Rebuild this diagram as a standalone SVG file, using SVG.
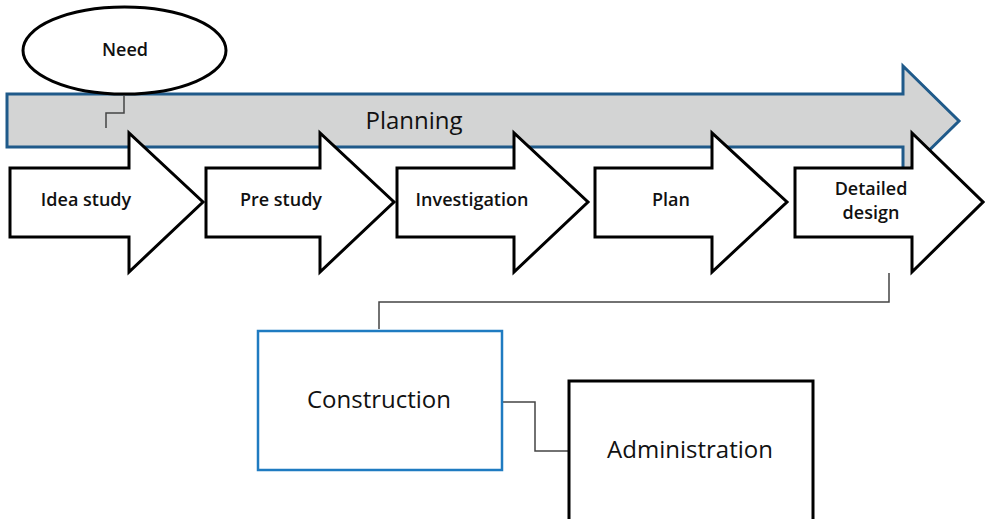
<svg xmlns="http://www.w3.org/2000/svg" width="985" height="519" viewBox="0 0 985 519">
<style>
.step{fill:#fff;stroke:#000;stroke-width:3;stroke-linejoin:miter}
.lbl{font-family:"Open Sans","Liberation Sans",sans-serif;font-size:18px;font-weight:600;fill:#111;text-anchor:middle}
.big{font-family:"Open Sans","Liberation Sans",sans-serif;font-size:24px;fill:#111;text-anchor:middle}
.conn{fill:none;stroke:#444;stroke-width:1.5}
</style>
<rect width="985" height="519" fill="#fff"/>
<g id="planning">
<polygon points="7,94 903,94 903,66 959,121 903,176 903,147 7,147" fill="#d3d4d4" stroke="#1f5a8a" stroke-width="3"/>
<text class="big" x="414" y="129">Planning</text>
</g>
<g id="need">
<ellipse cx="124.5" cy="50.5" rx="101.5" ry="43.5" fill="#fff" stroke="#000" stroke-width="3"/>
<text class="lbl" x="125" y="56">Need</text>
</g>
<g id="connectors">
<polyline class="conn" points="124,95 124,113 106,113 106,128" stroke="#222"/>
<polyline class="conn" points="889,273 889,302 379,302 379,329"/>
<polyline class="conn" points="503,402 535,402 535,451 568,451"/>
</g>
<g id="idea-study">
<polygon class="step" points="10,168 129,168 129,133 203,202 129,272 129,237 10,237"/>
<text class="lbl" x="86" y="206">Idea study</text>
</g>
<g id="pre-study">
<polygon class="step" points="206,168 320,168 320,133 394,202 320,272 320,237 206,237"/>
<text class="lbl" x="281" y="206">Pre study</text>
</g>
<g id="investigation">
<polygon class="step" points="397,168 514,168 514,133 588,202 514,272 514,237 397,237"/>
<text class="lbl" x="472" y="206">Investigation</text>
</g>
<g id="plan">
<polygon class="step" points="595,168 712,168 712,133 787,202 712,272 712,237 595,237"/>
<text class="lbl" x="671" y="206">Plan</text>
</g>
<g id="detailed-design">
<polygon class="step" points="795,168 912,168 912,133 983,202 912,272 912,237 795,237"/>
<text class="lbl" x="871" y="195">Detailed</text>
<text class="lbl" x="871" y="219">design</text>
</g>
<g id="construction">
<rect x="258" y="331" width="244" height="139" fill="#fff" stroke="#1f7bc1" stroke-width="2.5"/>
<text class="big" x="379" y="408">Construction</text>
</g>
<g id="administration">
<rect x="569" y="381" width="244" height="150" fill="#fff" stroke="#000" stroke-width="3"/>
<text class="big" x="690" y="458">Administration</text>
</g>
</svg>
